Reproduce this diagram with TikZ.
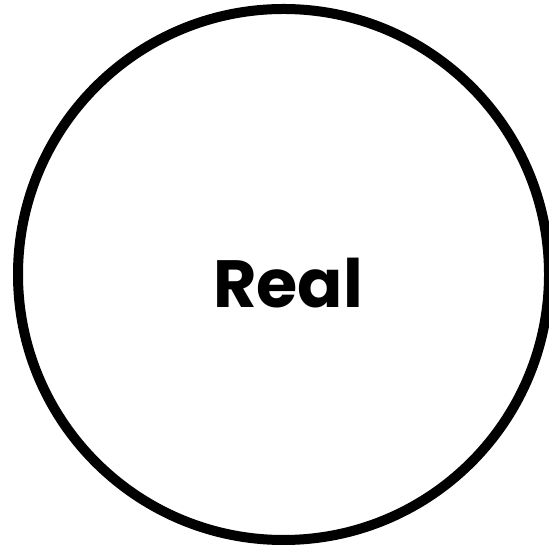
\documentclass[tikz,border=0pt]{standalone}
\usepackage{fontspec}
\setmainfont{Poppins}
\usetikzlibrary{positioning}

\begin{document}
\begin{tikzpicture}[
    ring/.style={circle, draw=black, line width=0.1cm, minimum size=5.31cm, inner sep=0pt},
    title/.style={font=\fontsize{19}{22}\selectfont\bfseries, text=black}
]
\useasboundingbox (0,0) rectangle (5.48,5.49);

% Set
\node[ring] (set) at (2.835,2.745) {};
\node[title] (real) at (2.88,2.66) {Real};

\end{tikzpicture}
\end{document}
